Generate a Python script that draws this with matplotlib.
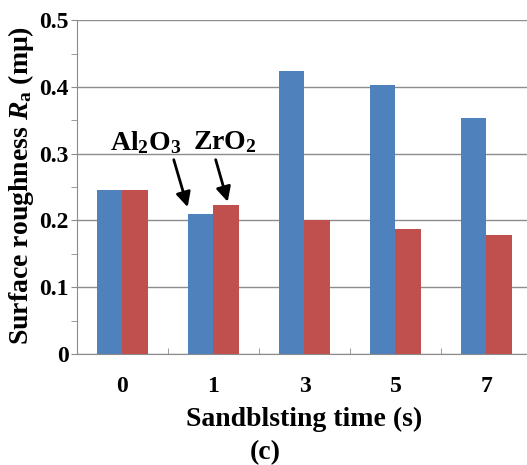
import numpy as np
import matplotlib.pyplot as plt
from matplotlib.ticker import MultipleLocator, FixedLocator

times = ['0', '1', '3', '5', '7']
al2o3 = [0.245, 0.210, 0.424, 0.403, 0.354]
zro2 = [0.245, 0.223, 0.200, 0.187, 0.178]

plt.rcParams['font.family'] = 'Liberation Serif'
plt.rcParams['font.weight'] = 'bold'
plt.rcParams['mathtext.fontset'] = 'custom'
plt.rcParams['mathtext.rm'] = 'Liberation Serif:bold'
plt.rcParams['mathtext.it'] = 'Liberation Serif:italic:bold'
plt.rcParams['mathtext.bf'] = 'Liberation Serif:bold'

fig = plt.figure(figsize=(5.27, 4.65), dpi=100)
ax = fig.add_axes([0.146, 0.2387, 0.854, 0.718])

x = np.arange(len(times))
w = 0.285
ax.bar(x - w/2, al2o3, w, color='#4F81BD', zorder=3)
ax.bar(x + w/2, zro2, w, color='#C0504D', zorder=3)

ax.set_ylim(0, 0.5)
ax.set_xlim(-0.5, 4.445)
ax.yaxis.set_minor_locator(MultipleLocator(0.05))
ax.set_yticks([0, 0.1, 0.2, 0.3, 0.4, 0.5])
ax.set_yticklabels(['0', '0.1', '0.2', '0.3', '0.4', '0.5'])
ax.grid(axis='y', color='#8c8c8c', lw=1.0, zorder=0)
ax.tick_params(axis='y', which='both', length=4, color='#8c8c8c', labelsize=17, pad=2)

ax.set_xticks(x)
ax.set_xticklabels(times)
ax.xaxis.set_minor_locator(FixedLocator(x[:-1] + 0.5))
ax.tick_params(axis='x', which='major', length=0, labelsize=17, pad=16)
ax.tick_params(axis='x', which='minor', direction='in', length=4, color='#8c8c8c')

for s in ['top', 'right']:
    ax.spines[s].set_visible(False)
for s in ['left', 'bottom']:
    ax.spines[s].set_color('#8c8c8c')

ax.set_xlabel('Sandblsting time (s)', fontsize=20, fontweight='bold')
ax.xaxis.set_label_coords(0.504, -0.158)
ax.set_ylabel(r'Surface roughness $\mathit{R}_\mathrm{a}$ (m$\mathrm{\mu}$)', fontsize=20, fontweight='bold')
ax.yaxis.set_label_coords(-0.09, 0.506)

ax.text(0.258, 0.317, r'Al$_\mathrm{2}$O$_\mathrm{3}$', ha='center', va='center', fontsize=20, fontweight='bold')
ax.text(1.126, 0.317, r'ZrO$_\mathrm{2}$', ha='center', va='center', fontsize=20, fontweight='bold')
ax.annotate('', xy=(0.725, 0.216), xytext=(0.555, 0.295),
            arrowprops=dict(arrowstyle='-|>', color='black', lw=2, mutation_scale=22))
ax.annotate('', xy=(1.165, 0.224), xytext=(1.016, 0.295),
            arrowprops=dict(arrowstyle='-|>', color='black', lw=2, mutation_scale=22))

fig.text(0.503, 0.026, '(c)', ha='center', va='center', fontsize=20, fontweight='bold')

fig.savefig('out.png', dpi=100)
